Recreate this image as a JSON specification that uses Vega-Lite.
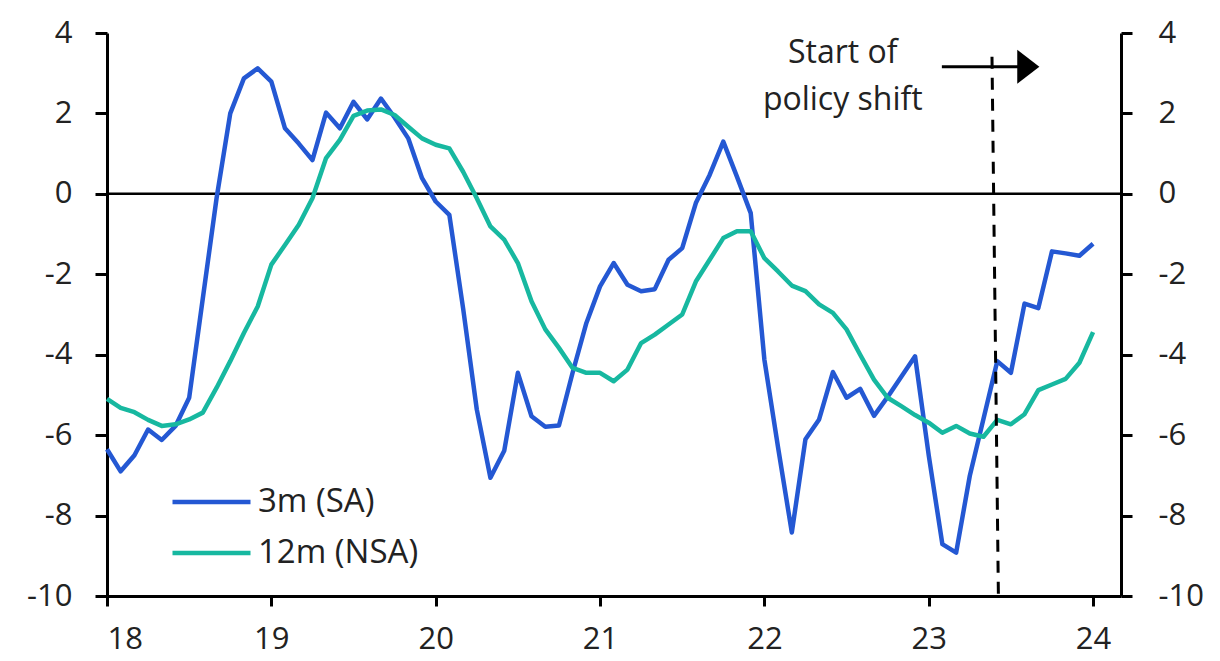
{
  "$schema": "https://vega.github.io/schema/vega-lite/v6.json",
  "width": 1014,
  "height": 563,
  "autosize": "none",
  "padding": {"left": 107, "top": 33, "right": 99, "bottom": 65},
  "background": "white",
  "config": {"view": {"stroke": null}, "font": "Open Sans"},
  "data": {"values": [
    {"t": 18, "sa": -6.35, "nsa": -5.10},
    {"t": 18.083, "sa": -6.9, "nsa": -5.32},
    {"t": 18.167, "sa": -6.5, "nsa": -5.43},
    {"t": 18.25, "sa": -5.86, "nsa": -5.62},
    {"t": 18.333, "sa": -6.12, "nsa": -5.77},
    {"t": 18.417, "sa": -5.77, "nsa": -5.73},
    {"t": 18.5, "sa": -5.07, "nsa": -5.61},
    {"t": 18.583, "sa": -2.6, "nsa": -5.44},
    {"t": 18.667, "sa": -0.1, "nsa": -4.82},
    {"t": 18.75, "sa": 2.0, "nsa": -4.16},
    {"t": 18.833, "sa": 2.87, "nsa": -3.46},
    {"t": 18.917, "sa": 3.12, "nsa": -2.80},
    {"t": 19, "sa": 2.79, "nsa": -1.76},
    {"t": 19.083, "sa": 1.63, "nsa": -1.27},
    {"t": 19.167, "sa": 1.25, "nsa": -0.77},
    {"t": 19.25, "sa": 0.84, "nsa": -0.11},
    {"t": 19.333, "sa": 2.02, "nsa": 0.89},
    {"t": 19.417, "sa": 1.63, "nsa": 1.34},
    {"t": 19.5, "sa": 2.29, "nsa": 1.94},
    {"t": 19.583, "sa": 1.85, "nsa": 2.07},
    {"t": 19.667, "sa": 2.37, "nsa": 2.10},
    {"t": 19.75, "sa": 1.9, "nsa": 1.96},
    {"t": 19.833, "sa": 1.38, "nsa": 1.67},
    {"t": 19.917, "sa": 0.39, "nsa": 1.38},
    {"t": 20, "sa": -0.19, "nsa": 1.22},
    {"t": 20.083, "sa": -0.52, "nsa": 1.13},
    {"t": 20.167, "sa": -2.85, "nsa": 0.55},
    {"t": 20.25, "sa": -5.36, "nsa": -0.11},
    {"t": 20.333, "sa": -7.06, "nsa": -0.81},
    {"t": 20.417, "sa": -6.39, "nsa": -1.14},
    {"t": 20.5, "sa": -4.45, "nsa": -1.72},
    {"t": 20.583, "sa": -5.53, "nsa": -2.67},
    {"t": 20.667, "sa": -5.79, "nsa": -3.37},
    {"t": 20.75, "sa": -5.76, "nsa": -3.83},
    {"t": 20.833, "sa": -4.45, "nsa": -4.33},
    {"t": 20.917, "sa": -3.21, "nsa": -4.45},
    {"t": 21, "sa": -2.3, "nsa": -4.45},
    {"t": 21.083, "sa": -1.72, "nsa": -4.66},
    {"t": 21.167, "sa": -2.26, "nsa": -4.37},
    {"t": 21.25, "sa": -2.42, "nsa": -3.71},
    {"t": 21.333, "sa": -2.37, "nsa": -3.50},
    {"t": 21.417, "sa": -1.64, "nsa": -3.25},
    {"t": 21.5, "sa": -1.35, "nsa": -3.0},
    {"t": 21.583, "sa": -0.23, "nsa": -2.18},
    {"t": 21.667, "sa": 0.47, "nsa": -1.64},
    {"t": 21.75, "sa": 1.30, "nsa": -1.10},
    {"t": 21.833, "sa": 0.43, "nsa": -0.93},
    {"t": 21.917, "sa": -0.48, "nsa": -0.93},
    {"t": 22, "sa": -4.12, "nsa": -1.60},
    {"t": 22.083, "sa": -6.3, "nsa": -1.93},
    {"t": 22.167, "sa": -8.42, "nsa": -2.28},
    {"t": 22.25, "sa": -6.1, "nsa": -2.42},
    {"t": 22.333, "sa": -5.61, "nsa": -2.75},
    {"t": 22.417, "sa": -4.43, "nsa": -2.96},
    {"t": 22.5, "sa": -5.07, "nsa": -3.37},
    {"t": 22.583, "sa": -4.85, "nsa": -4.0},
    {"t": 22.667, "sa": -5.52, "nsa": -4.62},
    {"t": 22.75, "sa": -5.05, "nsa": -5.07},
    {"t": 22.833, "sa": -4.55, "nsa": -5.28},
    {"t": 22.917, "sa": -4.04, "nsa": -5.50},
    {"t": 23, "sa": -6.5, "nsa": -5.69},
    {"t": 23.083, "sa": -8.71, "nsa": -5.94},
    {"t": 23.167, "sa": -8.92, "nsa": -5.77},
    {"t": 23.25, "sa": -7.01, "nsa": -5.96},
    {"t": 23.333, "sa": -5.6, "nsa": -6.04},
    {"t": 23.417, "sa": -4.16, "nsa": -5.62},
    {"t": 23.5, "sa": -4.45, "nsa": -5.73},
    {"t": 23.583, "sa": -2.73, "nsa": -5.48},
    {"t": 23.667, "sa": -2.84, "nsa": -4.88},
    {"t": 23.75, "sa": -1.43, "nsa": -4.74},
    {"t": 23.833, "sa": -1.48, "nsa": -4.60},
    {"t": 23.917, "sa": -1.54, "nsa": -4.20},
    {"t": 24, "sa": -1.24, "nsa": -3.44}
  ]},
  "layer": [
    {
      "data": {"values": [{}]},
      "mark": {"type": "rule", "color": "black", "strokeWidth": 2.5},
      "encoding": {"y": {"datum": 0, "type": "quantitative", "title": null, "axis": null}}
    },
    {
      "transform": [{"fold": ["sa", "nsa"], "as": ["series", "value"]}],
      "mark": {"type": "line", "strokeWidth": 4.5, "strokeJoin": "round"},
      "encoding": {
        "x": {
          "field": "t", "type": "quantitative", "title": null,
          "scale": {"domain": [18, 24.17], "nice": false, "zero": false},
          "axis": {
            "values": [18, 19, 20, 21, 22, 23, 24], "labelExpr": "toString(datum.value)", "grid": false,
            "domainColor": "black", "domainWidth": 3, "tickColor": "black", "tickWidth": 3,
            "tickSize": 10, "labelFontSize": 31, "labelColor": "#222", "labelPadding": 18,
            "labelFont": "Open Sans"
          }
        },
        "y": {
          "field": "value", "type": "quantitative", "title": null,
          "scale": {"domain": [-10, 4], "nice": false, "zero": false},
          "axis": {
            "orient": "left", "values": [-10, -8, -6, -4, -2, 0, 2, 4], "labelExpr": "toString(datum.value)", "grid": false,
            "domainColor": "black", "domainWidth": 3, "tickColor": "black", "tickWidth": 3,
            "tickSize": 12, "labelFontSize": 31, "labelColor": "#222", "labelPadding": 23,
            "labelFont": "Open Sans"
          }
        },
        "color": {
          "field": "series", "type": "nominal",
          "scale": {"domain": ["sa", "nsa"], "range": ["#2458d3", "#17b8a0"]},
          "legend": {
            "orient": "none", "legendX": 63, "legendY": 447, "title": null,
            "symbolType": "M-1,0H3", "symbolSize": 1521, "symbolStrokeWidth": 4.5,
            "labelFontSize": 33, "labelFont": "Open Sans", "labelColor": "#222",
            "labelOffset": 44, "rowPadding": 12, "padding": 0, "labelLimit": 400,
            "labelExpr": "datum.label == 'sa' ? '3m (SA)' : '12m (NSA)'"
          }
        }
      }
    },
    {
      "data": {"values": [{}]},
      "mark": {"type": "rule", "color": "black", "strokeWidth": 3, "strokeDash": [12, 9]},
      "encoding": {
        "x": {"datum": 23.385, "type": "quantitative", "title": null},
        "x2": {"datum": 23.424},
        "y": {
          "datum": 3.41, "type": "quantitative", "title": null,
          "axis": {
            "orient": "right", "values": [-10, -8, -6, -4, -2, 0, 2, 4], "labelExpr": "toString(datum.value)", "grid": false,
            "domainColor": "black", "domainWidth": 3, "tickColor": "black", "tickWidth": 3,
            "tickSize": 11, "labelFontSize": 31, "labelColor": "#222", "labelPadding": 26,
            "labelFont": "Open Sans", "title": null
          }
        },
        "y2": {"datum": -10}
      }
    },
    {
      "data": {"values": [{}]},
      "mark": {"type": "rule", "color": "black", "strokeWidth": 3},
      "encoding": {
        "x": {"datum": 23.08, "type": "quantitative", "title": null},
        "x2": {"datum": 23.55},
        "y": {"datum": 3.16, "type": "quantitative", "title": null, "axis": null}
      }
    },
    {
      "data": {"values": [{}]},
      "mark": {"type": "point", "shape": "M-0.65,-1L0.65,0L-0.65,1Z", "filled": true, "color": "black", "opacity": 1, "size": 1156},
      "encoding": {
        "x": {"datum": 23.606, "type": "quantitative", "title": null},
        "y": {"datum": 3.16, "type": "quantitative", "title": null, "axis": null}
      }
    },
    {
      "data": {"values": [{}]},
      "mark": {"type": "text", "align": "center", "baseline": "alphabetic", "fontSize": 32, "lineHeight": 47, "font": "Open Sans", "color": "#222"},
      "encoding": {
        "x": {"datum": 22.477, "type": "quantitative", "title": null},
        "y": {"datum": 3.25, "type": "quantitative", "title": null, "axis": null},
        "text": {"value": ["Start of", "policy shift"]}
      }
    }
  ],
  "resolve": {"axis": {"y": "independent"}}
}
